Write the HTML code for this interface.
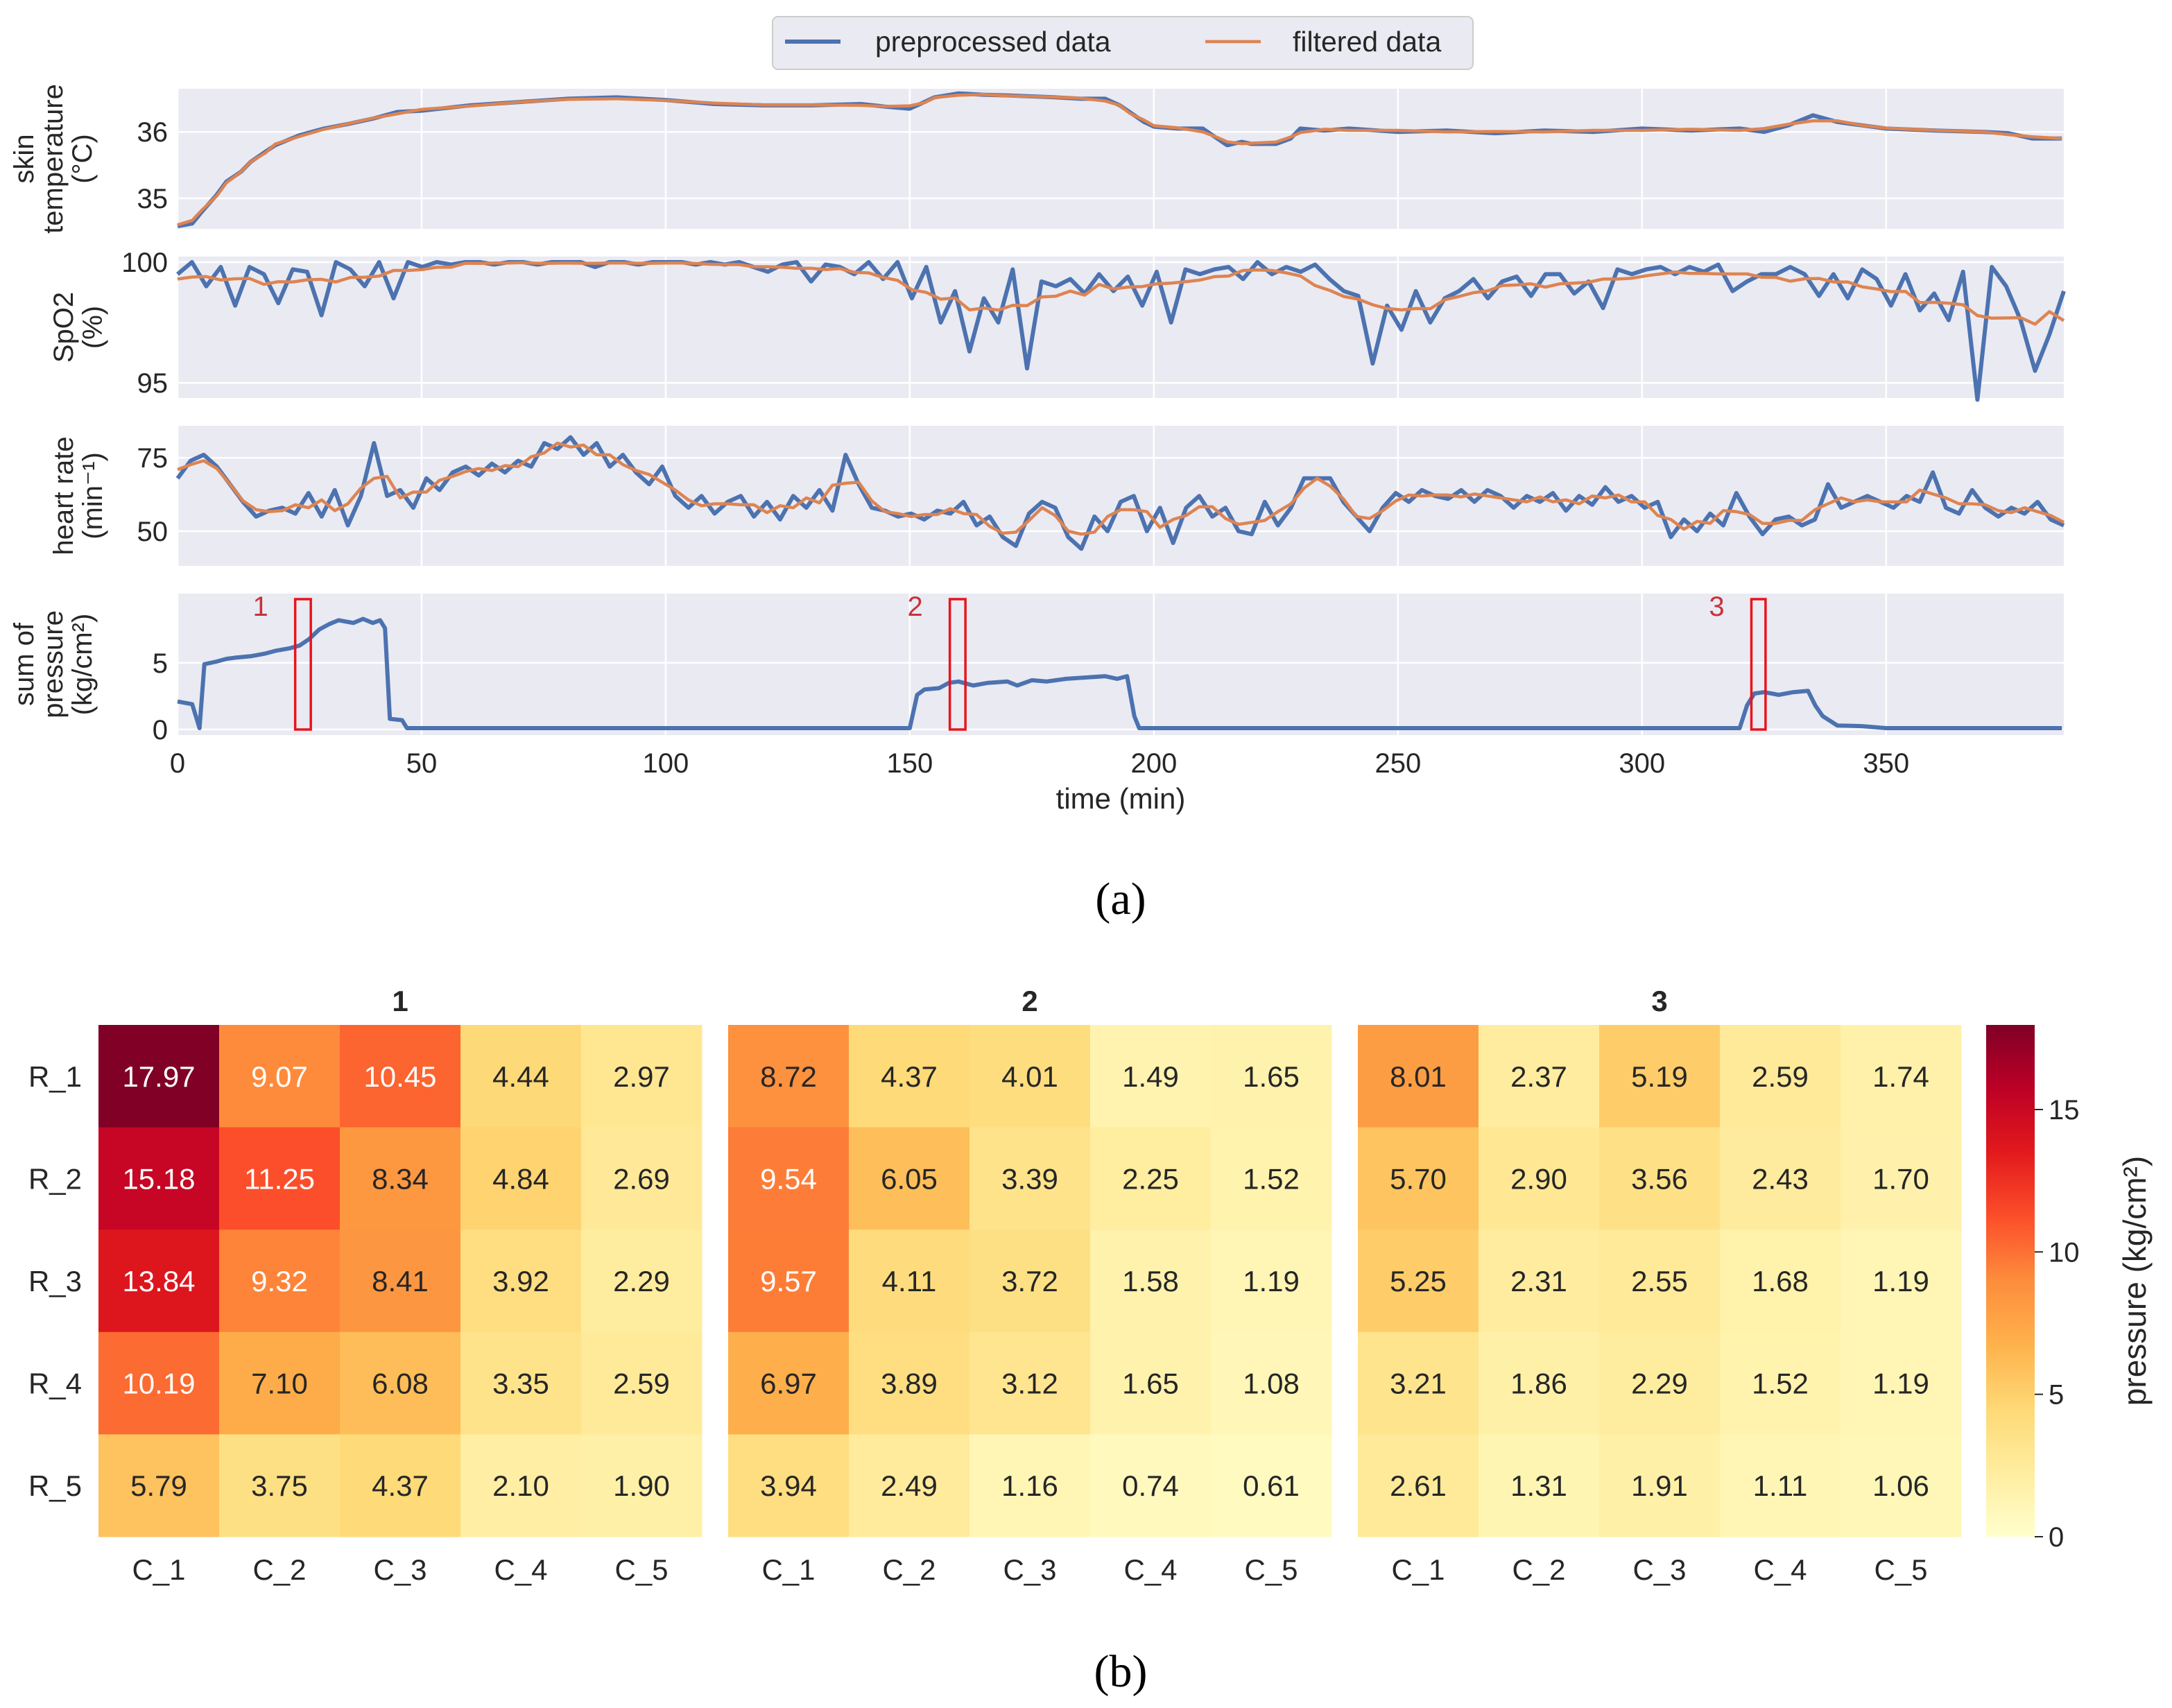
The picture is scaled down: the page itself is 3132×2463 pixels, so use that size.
<!DOCTYPE html>
<html><head><meta charset="utf-8"><style>
html,body{margin:0;padding:0;background:#fff;}
svg{display:block;font-family:"Liberation Sans",Arial,sans-serif;}
</style></head><body>
<svg id="fig" width="3132" height="2463" viewBox="0 0 3132 2463" xmlns="http://www.w3.org/2000/svg">
<g id="topg"></g>
<g id="botg"></g>
</svg>
<script>
// ---------- data ----------
const tempTimes = [0,3,5,8,10,13,15,18,20,25,30,35,40,45,50,60,70,80,90,100,110,120,130,140,145,150,153,155,160,165,170,180,185,190,193,195,198,200,205,210,213,215,218,220,225,228,230,235,240,250,260,270,280,290,300,310,320,325,330,335,340,345,350,360,370,375,380,386];
const tempVals  = [34.58,34.62,34.8,35.05,35.25,35.4,35.55,35.7,35.8,35.95,36.05,36.12,36.2,36.3,36.32,36.4,36.45,36.5,36.52,36.48,36.42,36.4,36.4,36.42,36.38,36.35,36.45,36.52,36.58,36.56,36.55,36.52,36.5,36.5,36.4,36.3,36.15,36.08,36.05,36.05,35.9,35.8,35.85,35.82,35.82,35.9,36.05,36.02,36.05,36.0,36.02,35.98,36.02,36.0,36.05,36.02,36.05,36.0,36.1,36.25,36.15,36.1,36.05,36.02,36.0,35.98,35.9,35.9];
const spo2Vals = [99.5,100,99,99.8,98.2,99.8,99.5,98.3,99.7,99.6,97.8,100,99.7,99,100,98.5,100,99.8,100,99.9,100,100,99.9,100,100,99.9,100,100,100,99.8,100,100,99.9,100,100,100,99.9,100,99.9,100,99.8,99.6,99.9,100,99.2,99.9,99.8,99.5,100,99.3,100,98.5,99.8,97.5,98.8,96.3,98.5,97.5,99.7,95.6,99.2,99,99.3,98.7,99.5,98.8,99.4,98.2,99.6,97.5,99.7,99.5,99.7,99.8,99.3,100,99.5,99.8,99.6,99.9,99.3,98.8,98.6,95.8,98.2,97.2,98.8,97.5,98.5,98.8,99.3,98.5,99.2,99.4,98.6,99.5,99.5,98.7,99.2,98.1,99.7,99.5,99.7,99.8,99.5,99.8,99.6,99.9,98.8,99.2,99.5,99.5,99.8,99.5,98.6,99.5,98.5,99.7,99.3,98.2,99.5,98,98.7,97.6,99.6,94.3,99.8,99,97.6,95.5,97,98.8];
const hrVals = [68,74,76,72,66,60,55,57,58,56,63,55,64,52,62,80,62,64,58,68,64,70,72,69,73,70,74,72,80,78,82,76,80,72,76,70,66,72,62,58,62,56,60,62,55,60,54,62,58,64,57,76,66,58,57,55,56,54,57,56,60,52,55,48,45,56,60,58,48,44,55,50,60,62,50,58,46,58,62,55,58,50,49,60,52,58,68,68,68,60,55,50,58,63,60,64,62,61,64,60,64,62,58,62,60,63,57,62,59,65,60,62,58,60,48,54,50,56,52,63,55,49,54,55,52,54,66,58,60,62,60,58,62,60,70,58,56,64,58,55,58,56,60,54,52];
const presTimes = [0,3,4.5,5.5,8,10,12,15,18,20,23,25,27,29,31,33,36,38,40,41.5,42.5,43.5,46,47,60,100,150,151.5,153,156,158,160,163,166,170,172,175,178,182,186,190,192.5,194.5,196,197,250,300,320,321.5,323,325,328,331,334,335.5,337,340,345,350,386];
const presVals  = [2.1,1.9,0.1,4.9,5.1,5.3,5.4,5.5,5.7,5.9,6.1,6.3,6.8,7.5,7.9,8.2,8.0,8.3,8.0,8.2,7.6,0.8,0.7,0.1,0.1,0.1,0.1,2.6,3.0,3.1,3.5,3.6,3.3,3.5,3.6,3.3,3.7,3.6,3.8,3.9,4.0,3.8,4.0,1.0,0.1,0.1,0.1,0.1,1.8,2.7,2.8,2.6,2.8,2.9,1.8,1.0,0.3,0.25,0.1,0.1];
const windows = [{label:"1",t0:24.1,t1:27.3},{label:"2",t0:158.2,t1:161.4},{label:"3",t0:322.4,t1:325.3}];
const xTicks = [0,50,100,150,200,250,300,350];

const rowLabels = ["R_1","R_2","R_3","R_4","R_5"];
const colLabels = ["C_1","C_2","C_3","C_4","C_5"];
const hmTitles = ["1","2","3"];
const hm1 = [[17.97,9.07,10.45,4.44,2.97],[15.18,11.25,8.34,4.84,2.69],[13.84,9.32,8.41,3.92,2.29],[10.19,7.10,6.08,3.35,2.59],[5.79,3.75,4.37,2.10,1.90]];
const hm2 = [[8.72,4.37,4.01,1.49,1.65],[9.54,6.05,3.39,2.25,1.52],[9.57,4.11,3.72,1.58,1.19],[6.97,3.89,3.12,1.65,1.08],[3.94,2.49,1.16,0.74,0.61]];
const hm3 = [[8.01,2.37,5.19,2.59,1.74],[5.70,2.90,3.56,2.43,1.70],[5.25,2.31,2.55,1.68,1.19],[3.21,1.86,2.29,1.52,1.19],[2.61,1.31,1.91,1.11,1.06]];
const cbTicks = [0,5,10,15];

// ---------- helpers ----------
const NS="http://www.w3.org/2000/svg";
function mk(parent,tag,attrs,text){const e=document.createElementNS(NS,tag);for(const k in attrs)e.setAttribute(k,attrs[k]);if(text!==undefined)e.textContent=text;parent.appendChild(e);return e;}
const topG=document.getElementById('topg'), botG=document.getElementById('botg');
const X0=256,X1=2976,TMAX=386.4;
const xs=t=>X0+(t/TMAX)*(X1-X0);
function smooth(v,w){return v.map((_,i)=>{let s=0,n=0;for(let j=i-w;j<=i+w;j++){if(j>=0&&j<v.length){s+=v[j];n++;}}return s/n;});}
function pathOf(ts,vs,ys){return ts.map((t,i)=>(i?'L':'M')+xs(t).toFixed(1)+','+ys(vs[i]).toFixed(1)).join('');}
const BLUE="#4c72b0",ORANGE="#dd8452";
const FS=40;

const panels=[
 {name:"skin-temperature",y0:128,y1:330,vmin:34.54,vmax:36.65,ticks:[35,36],lab:["skin","temperature","(°C)"]},
 {name:"spo2",y0:370,y1:574,vmin:94.37,vmax:100.23,ticks:[95,100],lab:["SpO2","(%)"]},
 {name:"heart-rate",y0:614,y1:816,vmin:38.2,vmax:85.9,ticks:[50,75],lab:["heart rate","(min⁻¹)"]},
 {name:"sum-of-pressure",y0:856,y1:1060,vmin:-0.42,vmax:10.2,ticks:[0,5],lab:["sum of","pressure","(kg/cm²)"]}
];
panels.forEach((p,pi)=>{
  const g=mk(topG,'g',{});
  
  
  const ys=v=>p.y1-(v-p.vmin)/(p.vmax-p.vmin)*(p.y1-p.y0);
  p.ys=ys;
  mk(g,'rect',{x:X0,y:p.y0,width:X1-X0,height:p.y1-p.y0,fill:"#eaeaf2"});
  xTicks.forEach(t=>mk(g,'line',{x1:xs(t),x2:xs(t),y1:p.y0,y2:p.y1,stroke:"#fff","stroke-width":2.5}));
  p.ticks.forEach(v=>{
    mk(g,'line',{x1:X0,x2:X1,y1:ys(v),y2:ys(v),stroke:"#fff","stroke-width":2.5});
    const tl=mk(g,'text',{x:X0-14,y:ys(v)+14,"text-anchor":"end","font-size":FS,fill:"#262626"},String(v));
    
    
  });
  const lines=p.lab; const lh=42; const n=lines.length;
  const cx=n==3?76:112;
  const yl=mk(g,'text',{transform:`translate(${cx},${(p.y0+p.y1)/2}) rotate(-90)`,"text-anchor":"middle","font-size":40,fill:"#262626"});
  
  
  lines.forEach((s,i)=>mk(yl,'tspan',{x:0,y:(i-(n-1)/2)*lh+14},s));
});
// skin temp
(function(){const p=panels[0];
  const a=mk(topG,'path',{d:pathOf(tempTimes,tempVals,p.ys),fill:"none",stroke:BLUE,"stroke-width":6,"stroke-linejoin":"round"});
  
  const b=mk(topG,'path',{d:pathOf(tempTimes,smooth(tempVals,1),p.ys),fill:"none",stroke:ORANGE,"stroke-width":4.5});
  
})();
function evenTimes(v){return v.map((_,i)=>i*TMAX/(v.length-1));}
[[1,spo2Vals,'spo2',4],[2,hrVals,'heart-rate',1]].forEach(([pi,vals,nm,w])=>{
  const p=panels[pi];const ts=evenTimes(vals);
  const a=mk(topG,'path',{d:pathOf(ts,vals,p.ys),fill:"none",stroke:BLUE,"stroke-width":6,"stroke-linejoin":"round"});
  
  const b=mk(topG,'path',{d:pathOf(ts,smooth(vals,w),p.ys),fill:"none",stroke:ORANGE,"stroke-width":4.5,"stroke-linejoin":"round"});
  
});
(function(){const p=panels[3];
  const a=mk(topG,'path',{d:pathOf(presTimes,presVals,p.ys),fill:"none",stroke:BLUE,"stroke-width":6,"stroke-linejoin":"round"});
  
  windows.forEach(w=>{
    const r=mk(topG,'rect',{x:xs(w.t0),y:864,width:xs(w.t1)-xs(w.t0),height:188,fill:"none",stroke:"#e8141c","stroke-width":3.5});
    
    const l=mk(topG,'text',{x:xs(w.t0)-50,y:888,"text-anchor":"middle","font-size":FS,fill:"#c8323c"},w.label);
    
  });
})();
xTicks.forEach(t=>{
  const l=mk(topG,'text',{x:xs(t),y:1114,"text-anchor":"middle","font-size":FS,fill:"#262626"},String(t));
  
});
{const l=mk(topG,'text',{x:1616,y:1166,"text-anchor":"middle","font-size":42,fill:"#262626"},"time (min)");
}
// legend
{const lg=mk(topG,'g',{});

mk(lg,'rect',{x:1114,y:24,width:1010,height:76,rx:8,fill:"#eaeaf2",stroke:"#cccccc","stroke-width":2});
mk(lg,'line',{x1:1132,x2:1212,y1:60,y2:60,stroke:BLUE,"stroke-width":6});
const t1=mk(lg,'text',{x:1262,y:74,"font-size":41,fill:"#262626"},"preprocessed data");

mk(lg,'line',{x1:1738,x2:1818,y1:60,y2:60,stroke:ORANGE,"stroke-width":4.5});
const t2=mk(lg,'text',{x:1864,y:74,"font-size":41,fill:"#262626"},"filtered data");
}
{const a=mk(topG,'text',{x:1616,y:1318,"text-anchor":"middle","font-size":66,fill:"#000","font-family":"Liberation Serif,serif"},"(a)");
}

// ---------- heatmaps ----------
const stops=[[0,[255,255,204]],[.125,[255,237,160]],[.25,[254,217,118]],[.375,[254,178,76]],[.5,[253,141,60]],[.625,[252,78,42]],[.75,[227,26,28]],[.875,[189,0,38]],[1,[128,0,38]]];
const VMAX=17.97;
function cmap(v){let f=Math.max(0,Math.min(1,v/VMAX));for(let i=1;i<stops.length;i++){if(f<=stops[i][0]){const [a,ca]=stops[i-1],[b,cb]=stops[i];const u=(f-a)/(b-a);return 'rgb('+ca.map((c,k)=>Math.round(c+(cb[k]-c)*u)).join(',')+')';}}return 'rgb(128,0,38)';}
const HX=[142,1050,1958],HY0=1478,HY1=2216,HW=870;const cw=HW/5,ch=(HY1-HY0)/5;
[hm1,hm2,hm3].forEach((m,hi)=>{
  const g=mk(botG,'g',{});
  
  const tt=mk(g,'text',{x:HX[hi]+HW/2,y:1458,"text-anchor":"middle","font-size":42,"font-weight":"bold",fill:"#262626"},hmTitles[hi]);
  
  m.forEach((row,r)=>row.forEach((v,c)=>{
    const cell=mk(g,'rect',{x:HX[hi]+c*cw,y:HY0+r*ch,width:cw+0.5,height:ch+0.5,fill:cmap(v)});
    
    const t=mk(g,'text',{x:HX[hi]+c*cw+cw/2,y:HY0+r*ch+ch/2+15,"text-anchor":"middle","font-size":42,fill:v>9?"#fff":"#262626"},v.toFixed(2));
    
  }));
  colLabels.forEach((s,c)=>{const t=mk(g,'text',{x:HX[hi]+c*cw+cw/2,y:2278,"text-anchor":"middle","font-size":42,fill:"#262626"},s);
    });
  if(hi==0)rowLabels.forEach((s,r)=>{const t=mk(g,'text',{x:118,y:HY0+r*ch+ch/2+15,"text-anchor":"end","font-size":42,fill:"#262626"},s);
    });
});
// colorbar
{const g=mk(botG,'g',{});

const defs=mk(g,'defs',{});const lgd=mk(defs,'linearGradient',{id:'cbg',x1:0,y1:1,x2:0,y2:0});
stops.forEach(s=>mk(lgd,'stop',{offset:s[0],"stop-color":'rgb('+s[1].join(',')+')'}));
mk(g,'rect',{x:2864,y:HY0,width:70,height:HY1-HY0,fill:'url(#cbg)'});
const cy=v=>HY1-v/VMAX*(HY1-HY0);
cbTicks.forEach(v=>{mk(g,'line',{x1:2934,x2:2946,y1:cy(v),y2:cy(v),stroke:"#262626","stroke-width":2});
  const t=mk(g,'text',{x:2954,y:cy(v)+14,"font-size":40,fill:"#262626"},String(v));
  });
const cl=mk(g,'text',{transform:`translate(3094,${(HY0+HY1)/2}) rotate(-90)`,"text-anchor":"middle","font-size":46,fill:"#262626"},"pressure (kg/cm²)");
}
{const b=mk(botG,'text',{x:1616,y:2432,"text-anchor":"middle","font-size":66,fill:"#000","font-family":"Liberation Serif,serif"},"(b)");
}
</script>
</body></html>
